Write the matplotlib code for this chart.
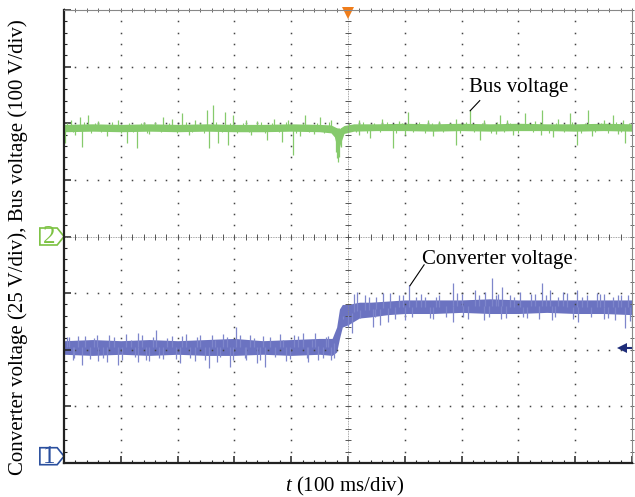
import numpy as np
import matplotlib.pyplot as plt
from matplotlib.patches import Polygon
from matplotlib.ticker import MultipleLocator

plt.rcParams['font.family'] = 'Liberation Serif'
plt.rcParams['mathtext.fontset'] = 'custom'
plt.rcParams['mathtext.it'] = 'Liberation Serif:italic'
plt.rcParams['mathtext.rm'] = 'Liberation Serif'

# time in ms (100 ms/div), voltages in V
# bus voltage, ch2 (100 V/div), ground marker at 4 div
bus_env_t = [0, 50, 100, 150, 200, 250, 300, 350, 400, 450, 470, 476, 480, 483, 487, 493,
             510, 550, 600, 650, 700, 750, 800, 850, 900, 950, 1000]
bus_env_hi = [198, 199, 198, 199, 198, 199, 198, 198, 199, 198, 197, 194, 192, 188, 192, 196,
              199, 199, 200, 199, 200, 199, 200, 199, 199, 200, 199]
bus_env_lo = [185, 186, 185, 186, 185, 186, 185, 185, 186, 185, 183, 176, 160, 150, 165, 182,
              186, 187, 187, 186, 187, 186, 187, 187, 186, 187, 186]
bus_level = 192
bus_up_t = [12, 28, 42, 60, 95, 140, 174, 190, 208, 230, 252, 262, 283, 298, 320, 340, 370,
            395, 424, 451, 470, 520, 560, 590, 606, 640, 660, 690, 715, 740, 768, 780, 812,
            830, 842, 870, 891, 923, 950, 967, 985]
bus_up_v = [205, 211, 215, 204, 206, 203, 211, 207, 218, 205, 224, 233, 220, 215, 206, 204, 207,
            205, 215, 211, 206, 205, 207, 204, 220, 206, 204, 207, 224, 205, 215, 206, 218,
            204, 224, 207, 218, 224, 205, 215, 206]
bus_dn_t = [2, 20, 32, 75, 111, 129, 150, 220, 255, 271, 289, 330, 357, 384, 403, 415, 440,
            478, 481, 483, 485, 488, 520, 539, 579, 600, 650, 690, 732, 760, 790, 840, 861,
            903, 930, 975, 988]
bus_dn_v = [165, 180, 158, 178, 165, 157, 181, 179, 157, 165, 162, 180, 171, 167, 144, 178, 181,
            150, 138, 132, 140, 158, 179, 174, 157, 180, 178, 162, 171, 181, 179, 180, 176,
            162, 178, 181, 165]
# short noise excursions
bus_fuzz_t = [6, 16, 36, 48, 55, 66, 84, 101, 115, 122, 135, 147, 160, 170, 185, 199, 214, 226,
              240, 246, 268, 278, 292, 305, 315, 325, 346, 353, 366, 378, 390, 408, 420, 431,
              445, 458, 466, 502, 514, 526, 534, 545, 556, 568, 585, 595, 615, 625, 635, 648,
              668, 680, 698, 708, 722, 736, 752, 763, 775, 786, 800, 818, 826, 838, 853, 866,
              880, 895, 910, 918, 935, 945, 958, 972, 981, 994]
bus_fuzz_v = [201, 184, 202, 183, 200, 185, 203, 182, 201, 184, 200, 183, 202, 185, 201, 182,
              203, 184, 200, 183, 202, 185, 201, 183, 200, 184, 203, 182, 201, 185, 202, 183,
              200, 184, 201, 182, 203, 201, 184, 202, 183, 200, 185, 203, 182, 201, 184, 202,
              183, 200, 185, 201, 182, 203, 184, 200, 183, 202, 185, 201, 183, 200, 184, 203,
              182, 201, 185, 202, 183, 200, 184, 201, 182, 203, 184, 201]

# converter voltage, ch1 (25 V/div), ground marker at 0 div
conv_env_t = [0, 50, 100, 150, 200, 250, 300, 350, 400, 450, 472, 480, 485, 490, 500,
              520, 540, 570, 600, 650, 700, 750, 800, 850, 900, 950, 1000]
conv_env_hi = [54, 54.5, 54, 54.5, 54, 54.5, 55, 54, 54.5, 55, 55, 60, 68, 70, 70,
               71, 71, 71.5, 72, 72, 72, 72.5, 72, 72, 72, 72, 72]
conv_env_lo = [48, 47.5, 48, 47.5, 48, 47.5, 47.5, 48, 47.5, 48, 47.5, 49, 55, 60, 61,
               64, 64.5, 65.5, 66, 66, 66.5, 66, 66, 66.5, 66, 66, 65.5]
conv_up_t = [5, 25, 58, 80, 110, 130, 162, 190, 215, 240, 261, 280, 303, 327, 350, 380, 405,
             420, 442, 465, 516, 530, 550, 574, 590, 607, 620, 636, 660, 685, 700, 724, 741,
             754, 760, 771, 785, 803, 830, 841, 856, 870, 879, 903, 920, 938, 950, 967, 980, 993]
conv_up_v = [55.7, 56, 56.5, 56.5, 57, 57.4, 58.7, 56, 57, 56.5, 56.5, 57, 60.1, 56.5, 56, 57,
             56.5, 57.5, 57.4, 56, 75.5, 74, 73.5, 75.1, 74, 78.6, 73.5, 73.3, 74, 79.5, 74.5,
             76.4, 75.5, 81.7, 74, 77.7, 74.2, 75.5, 74.5, 79.5, 76.4, 73.5, 75.5, 76.4, 74,
             75.1, 74.5, 73.3, 74, 74]
conv_dn_t = [15, 32, 60, 75, 95, 130, 150, 175, 204, 230, 255, 270, 292, 320, 340, 354, 390,
             430, 456, 470, 500, 507, 544, 556, 570, 600, 650, 685, 702, 740, 770, 815, 860,
             905, 950, 970, 988, 1000]
conv_dn_v = [45.5, 43.3, 45, 44.5, 43.3, 44.6, 45, 46, 44.2, 45, 42.0, 44.5, 42.4, 45.5, 44,
             42.4, 45, 44.5, 46.4, 45.5, 60, 57.4, 60.1, 61, 62.3, 63, 63.5, 62.3, 64.5, 63,
             63.5, 64, 63, 62.3, 63.5, 63, 59.6, 60.1]
conv_fuzz_t = [8, 18, 37, 45, 52, 68, 88, 102, 118, 125, 138, 145, 157, 168, 182, 197, 208, 222,
               235, 248, 266, 275, 287, 298, 310, 318, 335, 345, 362, 372, 385, 398, 412, 427,
               436, 448, 461, 476, 492, 511, 522, 537, 548, 562, 583, 597, 612, 628, 645, 655,
               672, 692, 712, 731, 748, 764, 778, 792, 808, 822, 836, 848, 865, 885, 897, 912,
               928, 944, 958, 975, 996]
conv_fuzz_v = [55.5, 46.5, 56, 46, 55, 46.5, 55.5, 45.5, 54.5, 47, 56.5, 45.5, 55.5, 46.5, 55,
               46, 56, 46.5, 55.5, 45.5, 54.5, 47, 55.5, 45.5, 56.5, 46.5, 55, 45.5, 55.5, 47,
               54.5, 46, 56, 46.5, 54.5, 45.5, 55.5, 46.5, 63.5, 74.5, 64, 73.5, 64.5, 75, 63.5,
               74, 64.5, 74.5, 64, 73.5, 64.5, 75, 63.5, 74, 64.5, 74.5, 64, 73.5, 64.5, 74.5,
               63.5, 74, 64.5, 75, 63.5, 73.5, 64.5, 74.5, 64, 74, 62.5]

BUS_GND, BUS_SCALE = 4.0, 100.0
CONV_GND, CONV_SCALE = 0.0, 25.0
bus_color = '#86ca6c'
conv_color = '#6b73c1'
conv_light = '#7e86cb'
ch2_color = '#7cc242'
ch1_color = '#2a4f9e'


def bus_div(v):
    return BUS_GND + np.asarray(v, dtype=float) / BUS_SCALE


def conv_div(v):
    return CONV_GND + np.asarray(v, dtype=float) / CONV_SCALE


fig = plt.figure(figsize=(6.35, 4.97), dpi=100)
ax = fig.add_axes([64 / 635, 1 - 463 / 497, 568 / 635, 453 / 497])
ax.set_xlim(0, 1000)
ax.set_ylim(0, 8)

# scope graticule
x_minor = np.arange(0, 1001, 20)
y_minor = np.arange(0, 8.01, 0.2)
for xv in range(100, 1000, 100):
    if xv == 500:
        continue
    ax.plot(np.full(len(y_minor), xv), y_minor, ls='none', marker='s', ms=1.1, mew=0, color='#444')
for yv in range(1, 8):
    if yv == 4:
        continue
    ax.plot(x_minor, np.full(len(x_minor), yv), ls='none', marker='s', ms=1.1, mew=0, color='#444')
ax.axvline(500, color='#888', lw=0.6, ls=(0, (1, 1)))
ax.axhline(4, color='#888', lw=0.6, ls=(0, (1, 1)))
ax.plot(np.full(len(y_minor), 500), y_minor, ls='none', marker='_', ms=4, mew=0.7, color='#555')
ax.plot(x_minor, np.full(len(x_minor), 4), ls='none', marker='|', ms=4, mew=0.7, color='#555')
ax.plot(x_minor, np.full(len(x_minor), 8), ls='none', marker='|', ms=3, mew=0.7, color='#666', clip_on=False)
ax.plot(np.full(len(y_minor), 1000), y_minor, ls='none', marker='_', ms=3, mew=0.7, color='#666', clip_on=False)

for s in ['top', 'right']:
    ax.spines[s].set_linestyle((0, (1, 1)))
    ax.spines[s].set_color('#888')
    ax.spines[s].set_linewidth(0.8)
for s in ['left', 'bottom']:
    ax.spines[s].set_linewidth(1.6)
    ax.spines[s].set_color('#222')

ax.xaxis.set_major_locator(MultipleLocator(100))
ax.xaxis.set_minor_locator(MultipleLocator(20))
ax.yaxis.set_major_locator(MultipleLocator(1))
ax.yaxis.set_minor_locator(MultipleLocator(0.2))
ax.tick_params(which='major', direction='in', length=5, width=1.1, color='#222',
               labelleft=False, labelbottom=False)
ax.tick_params(which='minor', direction='in', length=2, width=0.8, color='#222')

# bus voltage trace
ax.fill_between(bus_env_t, bus_div(bus_env_lo), bus_div(bus_env_hi), color=bus_color, lw=0)
ax.vlines(bus_fuzz_t, bus_div(bus_level), bus_div(bus_fuzz_v), color=bus_color, lw=0.8)
ax.vlines(bus_up_t, bus_div(bus_level), bus_div(bus_up_v), color=bus_color, lw=0.9)
ax.vlines(bus_dn_t, bus_div(bus_level), bus_div(bus_dn_v), color=bus_color, lw=0.9)

# converter voltage trace
conv_mid = (np.array(conv_env_hi) + np.array(conv_env_lo)) / 2
ax.fill_between(conv_env_t, conv_div(conv_env_lo), conv_div(conv_env_hi), color=conv_color, lw=0)
ax.vlines(conv_fuzz_t, conv_div(np.interp(conv_fuzz_t, conv_env_t, conv_mid)), conv_div(conv_fuzz_v),
          color=conv_light, lw=0.9)
ax.vlines(conv_up_t, conv_div(np.interp(conv_up_t, conv_env_t, conv_mid)), conv_div(conv_up_v),
          color=conv_light, lw=0.9)
ax.vlines(conv_dn_t, conv_div(np.interp(conv_dn_t, conv_env_t, conv_mid)), conv_div(conv_dn_v),
          color=conv_light, lw=0.9)


# channel ground markers
def ch_marker(y, label, color):
    tr = ax.get_yaxis_transform()
    pts = [(-0.0425, y - 0.15), (-0.012, y - 0.15), (0, y), (-0.012, y + 0.15), (-0.0425, y + 0.15)]
    ax.add_patch(Polygon(pts, closed=True, fill=False, edgecolor=color, lw=1.2,
                         transform=tr, clip_on=False))
    ax.text(-0.027, y - 0.01, label, color=color, fontsize=18, ha='center', va='center', transform=tr)


ch_marker(4.0, '2', ch2_color)
ch_marker(0.12, '1', ch1_color)

# trigger position and level markers
ax.plot([500], [7.94], marker='v', ms=9, mew=0, color='#f07d1a', clip_on=False)
ax.plot([982, 1000], [2.03, 2.03], color='#1f2d7a', lw=1.5, clip_on=False)
ax.plot([982], [2.03], marker='<', ms=7, mew=0, color='#1f2d7a', clip_on=False)

# annotations
ax.text(713, 6.63, 'Bus voltage', fontsize=15, ha='left', va='center')
ax.plot([715, 732], [6.22, 6.40], color='k', lw=0.8)
ax.text(630, 3.60, 'Converter voltage', fontsize=15, ha='left', va='center')
ax.plot([609, 634], [3.13, 3.50], color='k', lw=0.8)

fig.text(18 / 635, 1 - 247 / 497, 'Converter voltage (25 V/div), Bus voltage (100 V/div)',
         rotation=90, ha='center', va='center', fontsize=15)
fig.text(345 / 635, 1 - 486 / 497, r'$t$ (100 ms/div)', ha='center', va='center', fontsize=15)

fig.savefig('out.png', dpi=100)
